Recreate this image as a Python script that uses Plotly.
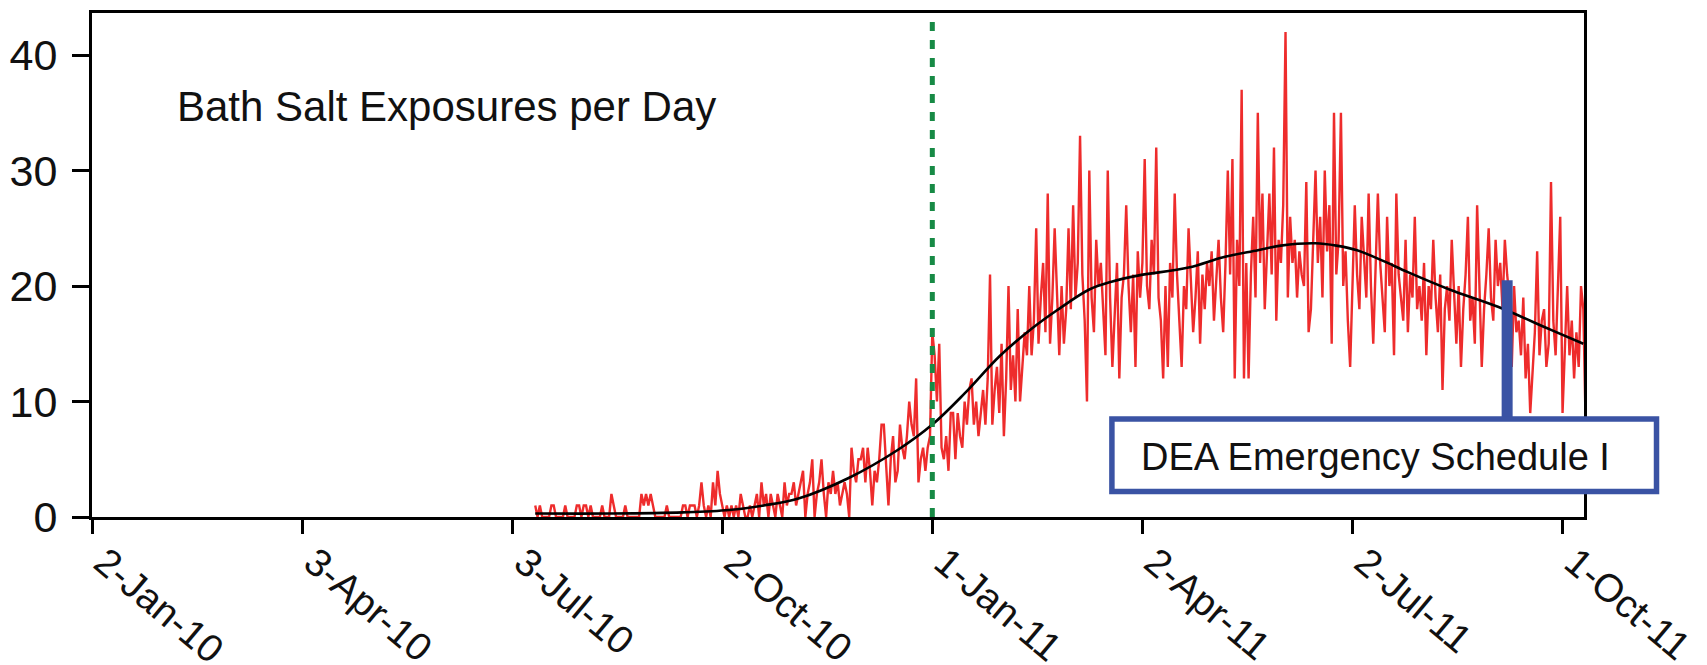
import pandas as pd
import plotly.graph_objects as go

# ---------------- data ----------------
series_start = "2010-07-13"
exp_2010_07 = [1, 0, 1, 0, 0, 0, 0, 1, 1, 0, 0, 0, 0, 1, 0, 0, 0, 0, 1]
exp_2010_08 = [1, 0, 1, 1, 0, 1, 0, 0, 0, 0, 1, 0, 0, 0, 2, 1, 0, 0, 0, 0, 1,
               0, 0, 0, 0, 0, 0, 2, 1, 2, 1]
exp_2010_09 = [2, 1, 0, 0, 0, 0, 0, 1, 0, 0, 0, 0, 0, 0, 1, 1, 0, 1, 1, 1,
               0, 1, 3, 1, 0, 1, 0, 3, 1, 4]
exp_2010_10 = [2, 1, 0, 1, 0, 1, 0, 1, 0, 2, 1, 0, 0, 1, 0, 1, 2, 0, 3, 1,
               2, 0, 2, 1, 0, 2, 1, 0, 3, 1, 2]
exp_2010_11 = [2, 3, 1, 2, 3, 4, 0, 2, 3, 5, 0, 2, 3, 5, 2, 0, 3, 2, 4, 2,
               3, 1, 2, 3, 2, 0, 6, 4, 3, 5]
exp_2010_12 = [5, 6, 3, 6, 4, 1, 4, 3, 5, 8, 8, 4, 1, 5, 7, 3, 4, 8, 6, 5,
               7, 10, 8, 7, 12, 3, 5, 6, 4, 6, 7]
exp_2011_01 = [16, 14, 10, 15, 6, 5, 7, 4, 9, 9, 5, 9, 7, 6, 10, 8, 11, 12, 8, 10,
               7, 9, 11, 8, 12, 21, 8, 11, 13, 9, 15]
exp_2011_02 = [7, 12, 20, 11, 14, 10, 18, 10, 13, 16, 14, 20, 14, 17, 25, 15, 19, 22, 16, 28,
               15, 19, 25, 20, 14, 20, 15, 18]
exp_2011_03 = [25, 18, 27, 19, 22, 33, 21, 17, 10, 30, 19, 16, 24, 20, 22, 18, 14, 30, 19, 13,
               17, 22, 12, 19, 21, 27, 20, 16, 21, 13, 23]
exp_2011_04 = [19, 22, 31, 20, 18, 24, 21, 32, 19, 17, 12, 20, 13, 22, 19, 28, 21, 17, 13, 20,
               18, 25, 21, 16, 19, 23, 15, 21, 18, 22]
exp_2011_05 = [20, 23, 17, 21, 24, 19, 16, 22, 30, 21, 31, 12, 24, 20, 37, 12, 22, 12, 21, 26,
               19, 35, 22, 28, 18, 23, 28, 21, 32, 17, 24]
exp_2011_06 = [22, 27, 42, 19, 26, 22, 24, 19, 23, 21, 20, 29, 16, 18, 24, 30, 22, 26, 19, 30,
               23, 27, 15, 35, 21, 24, 35, 20, 23, 17]
exp_2011_07 = [13, 20, 27, 21, 18, 26, 22, 19, 28, 20, 15, 21, 28, 22, 19, 16, 26, 20, 22, 14,
               28, 21, 19, 17, 24, 16, 21, 19, 26, 18, 20]
exp_2011_08 = [17, 22, 14, 20, 18, 24, 19, 16, 21, 11, 18, 20, 17, 24, 19, 15, 20, 13, 18, 21,
               26, 17, 19, 15, 27, 20, 13, 18, 21, 25, 19]
exp_2011_09 = [17, 24, 20, 22, 18, 24, 21, 19, 13, 20, 16, 17, 14, 19, 12, 15, 9, 13, 16, 23,
               14, 17, 18, 13, 15, 29, 17, 14, 20, 26]
exp_2011_10 = [9, 15, 20, 14, 17, 12, 16, 13, 20, 18, 8]

trend_dates = ["2010-07-13", "2010-08-15", "2010-09-15", "2010-10-05", "2010-10-20",
               "2010-11-04", "2010-11-26", "2010-12-17", "2011-01-01", "2011-01-15",
               "2011-01-30", "2011-02-13", "2011-02-24", "2011-03-10", "2011-03-20",
               "2011-03-31", "2011-04-22", "2011-05-07", "2011-05-22", "2011-06-01",
               "2011-06-16", "2011-06-25", "2011-07-04", "2011-07-15", "2011-07-26",
               "2011-08-13", "2011-09-03", "2011-09-26", "2011-10-10"]
trend_values = [0.3, 0.3, 0.4, 0.6, 1.0,
                1.6, 3.4, 5.8, 8.0, 10.7,
                13.9, 16.3, 17.9, 19.7, 20.4,
                20.9, 21.6, 22.5, 23.1, 23.5,
                23.7, 23.5, 23.1, 22.2, 21.2,
                19.7, 18.2, 16.2, 15.0]

tick_dates = ["2010-01-02", "2010-04-03", "2010-07-03", "2010-10-02",
              "2011-01-01", "2011-04-02", "2011-07-02", "2011-10-01"]
tick_labels = ["2-Jan-10", "3-Apr-10", "3-Jul-10", "2-Oct-10",
               "1-Jan-11", "2-Apr-11", "2-Jul-11", "1-Oct-11"]
y_ticks = [0, 10, 20, 30, 40]

title_text = "Bath Salt Exposures per Day"
event_text = "DEA Emergency Schedule I"
event_date = "2011-09-07"
event_top = 20.5
marker_date = "2011-01-01"

# ---------------- build ----------------
daily = (exp_2010_07 + exp_2010_08 + exp_2010_09 + exp_2010_10 + exp_2010_11 +
         exp_2010_12 + exp_2011_01 + exp_2011_02 + exp_2011_03 + exp_2011_04 +
         exp_2011_05 + exp_2011_06 + exp_2011_07 + exp_2011_08 + exp_2011_09 +
         exp_2011_10)
dates = pd.date_range(series_start, periods=len(daily), freq="D")

FONT = "Liberation Sans, Arial, sans-serif"
RED = "#EE2C2C"
BLUE = "#3A53A4"
GREEN = "#178A45"

OFF = 8  # page body margin
W, H = 1707 - OFF, 665 - OFF
# target plot edges in page pixels: left 92.3, right 1584, top 13, bottom 517
ML = 92.3 - OFF
MR = W - (1584 - OFF)
MT = 13 - OFF
MB = H - (517 - OFF)
plot_w = W - ML - MR
plot_h = H - MT - MB

def px_to_paper_x(px):  # px in page coordinates
    return (px - OFF - ML) / plot_w

def px_to_paper_y(py):
    return (H - MB - (py - OFF)) / plot_h

fig = go.Figure()
fig.add_trace(go.Scatter(x=dates, y=daily, mode="lines",
                         line=dict(color=RED, width=2.4), hoverinfo="skip",
                         showlegend=False))
fig.add_trace(go.Scatter(x=pd.to_datetime(trend_dates), y=trend_values, mode="lines",
                         line=dict(color="black", width=2.6, shape="spline", smoothing=1.0),
                         hoverinfo="skip", showlegend=False))

shapes = [
    dict(type="line", xref="x", yref="y", x0=marker_date, x1=marker_date,
         y0=0, y1=43.2, line=dict(color=GREEN, width=5, dash="9px,9px"), layer="above"),
    dict(type="line", xref="x", yref="y", x0=event_date, x1=event_date,
         y0=8.5, y1=event_top, line=dict(color=BLUE, width=11), layer="above"),
    dict(type="rect", xref="paper", yref="paper",
         x0=px_to_paper_x(1112), x1=px_to_paper_x(1656.5),
         y0=px_to_paper_y(491.5), y1=px_to_paper_y(419),
         line=dict(color=BLUE, width=5.5), fillcolor="white", layer="above"),
]

annotations = [
    dict(text=title_text, xref="paper", yref="paper",
         x=px_to_paper_x(175), y=px_to_paper_y(106), xanchor="left", yanchor="middle",
         showarrow=False, font=dict(family=FONT, size=42, color="#111111")),
    dict(text=event_text, xref="paper", yref="paper",
         x=px_to_paper_x(1139), y=px_to_paper_y(457), xanchor="left", yanchor="middle",
         showarrow=False, font=dict(family=FONT, size=38, color="#111111")),
]

fig.update_layout(
    width=W, height=H,
    margin=dict(l=ML, r=MR, t=MT, b=MB, pad=0, autoexpand=False),
    paper_bgcolor="white", plot_bgcolor="white",
    shapes=shapes, annotations=annotations,
    font=dict(family=FONT, color="#111111"),
    xaxis=dict(type="date", range=["2010-01-02", "2011-10-10 07:00"],
               tickmode="array", tickvals=tick_dates, ticktext=tick_labels,
               tickangle=40, ticks="outside", ticklen=14, tickwidth=3, tickcolor="black",
               showline=True, linewidth=3, linecolor="black", mirror=True,
               showgrid=False, zeroline=False, automargin=False,
               ticklabelstandoff=-10, ticklabelshift=12,
               tickfont=dict(family=FONT, size=39, color="#111111")),
    yaxis=dict(range=[0, 43.64], tickmode="array", tickvals=y_ticks,
               ticks="outside", ticklen=17, tickwidth=3, tickcolor="black",
               showline=True, linewidth=3, linecolor="black", mirror=True,
               showgrid=False, zeroline=False, automargin=False,
               ticklabelstandoff=6,
               tickfont=dict(family=FONT, size=43, color="#111111")),
)

fig.write_html("out.html")
